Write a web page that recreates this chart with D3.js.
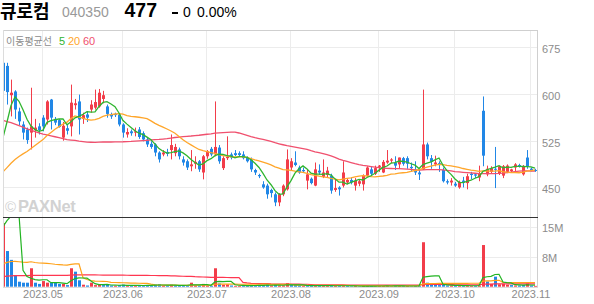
<!DOCTYPE html>
<html>
<head>
<meta charset="utf-8">
<script src="https://cdn.jsdelivr.net/npm/d3@7"></script>
<style>
  body { margin: 0; background: #fff; }
  svg { display: block; font-family: "Liberation Sans", Arial, sans-serif; }
</style>
</head>
<body>
<svg id="chart" width="594" height="304"></svg>
<script>
// trading days shown, by month
var monthKeys = ["2023.04", "2023.05", "2023.06", "2023.07", "2023.08", "2023.09", "2023.10", "2023.11"];
var monthDays = [
  [17, 18, 19, 20, 21, 24, 25, 26, 27, 28],
  [2, 3, 4, 8, 9, 10, 11, 12, 15, 16, 17, 18, 19, 22, 23, 24, 25, 26, 30, 31],
  [1, 2, 5, 7, 8, 9, 12, 13, 14, 15, 16, 19, 20, 21, 22, 23, 26, 27, 28, 29, 30],
  [3, 4, 5, 6, 7, 10, 11, 12, 13, 14, 17, 18, 19, 20, 21, 24, 25, 26, 27, 28, 31],
  [1, 2, 3, 4, 7, 8, 9, 10, 11, 14, 16, 17, 18, 21, 22, 23, 24, 25, 28, 29, 30, 31],
  [1, 4, 5, 6, 7, 8, 11, 12, 13, 14, 15, 18, 19, 20, 21, 22, 25, 26, 27],
  [4, 5, 6, 10, 11, 12, 13, 16, 17, 18, 19, 20, 23, 24, 25, 26, 27, 30, 31],
  [1, 2]
];

var opens = [650,645,598,604,572,551,543,538,542,548, 562,559,591,560,558,530,545,548,582,588,
  560,567,575,578,580,592,580,567,568,567, 551,535,540,538,543,537,527,520,519,506,
  503,507,510,505,511,495,492,484,488,492, 474,500,512,503,514,481,497,503,505,505,
  503,498,495,478,470,455,453,446,439,426, 439,447,482,490,482,478,461,464,453,477,
  467,470,469,446,450,453,458,462,453,456, 455,469,479,472,483,474,490,493,490,487,
  497,497,483,479,474,479,519,497,487,489, 478,460,458,456,450,461,457,472,471,466,
  573,471,475,480,473,469,475,476,482,486, 471,498,480,478];
var highs = [690,650,623,606,578,556,546,610,560,553, 566,590,592,563,560,555,550,615,592,599,
  570,572,590,607,608,605,583,570,570,569, 553,545,543,546,547,540,530,524,521,508,
  510,512,535,520,514,500,495,510,500,494, 502,510,515,588,518,500,532,506,510,508,
  508,500,498,480,472,460,456,448,442,441, 455,511,497,508,485,482,479,466,490,487,
  495,483,472,462,452,492,465,466,465,462, 471,484,484,485,486,494,510,497,500,498,
  499,500,490,492,480,607,522,502,501,492, 482,463,465,459,461,467,472,475,473,485,
  596,485,484,515,485,486,487,480,489,488, 486,510,482,480];
var lows = [580,583,564,560,550,527,520,511,530,535, 540,551,543,550,546,525,535,532,575,535,
  552,555,570,575,578,585,562,560,563,548, 530,530,533,532,528,524,515,512,500,490,
  500,500,495,500,495,485,478,476,480,475, 463,496,500,500,488,478,494,495,500,500,
  495,490,475,470,465,448,432,434,420,420, 436,445,478,484,472,474,447,455,452,470,
  465,466,440,443,437,450,455,455,445,452, 445,467,468,470,475,473,488,489,478,480,
  485,480,475,470,462,478,495,480,484,475, 458,455,453,451,448,450,447,463,465,460,
  484,468,472,449,470,465,473,474,476,482, 469,480,476,475];
var closes = [605,603,602,575,556,538,526,548,546,542, 548,588,562,554,547,549,541,586,585,559,
  566,562,583,587,602,598,568,564,566,551, 538,539,537,540,531,527,519,515,506,495,
  506,504,518,515,500,490,482,487,491,479, 500,508,503,515,492,497,499,498,502,502,
  497,492,479,474,468,450,439,441,426,439, 453,495,492,486,474,476,471,457,479,474,
  474,477,445,449,447,474,462,458,461,460, 469,482,472,481,485,491,493,495,485,498,
  488,488,481,474,471,519,500,491,490,486, 460,458,461,453,459,458,468,470,469,472,
  501,480,481,479,484,484,485,479,487,484, 483,484,477,477];
// volume in millions of shares
var volumes = [70,8.9,6.7,2.7,1.25,1.0,1.0,4.6,1.0,0.7, 1.4,1.0,1.0,1.0,0.7,0.7,0.4,4.6,3.75,1.6,
  0.5,0.3,1.0,0.4,0.5,0.4,0.5,0.3,0.2,0.4, 0.5,0.3,0.2,0.3,0.4,0.3,0.4,0.3,0.5,0.6,
  0.3,0.2,0.5,0.3,0.3,0.3,0.4,1.0,0.3,0.3, 0.7,0.3,0.2,4.6,0.8,0.5,0.6,0.3,0.2,0.2,
  0.3,0.3,0.4,0.3,0.3,0.4,0.5,0.3,0.4,0.3, 0.3,0.9,0.4,0.4,0.3,0.2,0.3,0.2,0.4,0.2,
  0.3,0.2,0.3,0.2,0.2,0.3,0.2,0.1,0.2,0.1, 0.2,0.2,0.2,0.1,0.2,0.2,0.3,0.1,0.2,0.2,
  0.2,0.2,0.1,0.2,0.2,11.1,1.0,0.6,0.5,0.4, 0.5,0.3,0.3,0.2,0.3,0.2,0.3,0.2,0.2,0.3,
  10.4,1.3,0.7,2.5,0.6,0.7,0.5,0.4,0.3,0.3, 0.4,0.8,0.3,0.2];

// history before the window, estimated from where the averages start
var priorCloses = [718,707,712,696,690,692,679,675,666,670,657,652,648,637,641,634,628,
  626,620,615,609,600,596,588,577,570,562,555,541,536,528,520,512,505,497,490,484,478,474,470,
  468,462,455,460,452,448,455,450,446,452,458,462,455,460,467,
  478,470,505,592];
var priorVolumes = [1.2,0.9,0.8,1.0,0.7,0.9,1.1,0.8,0.6,0.9,1.0,0.8,0.7,0.9,1.3,0.8,0.7,0.9,1.0,0.8,
  0.9,0.7,0.8,1.1,0.9,0.8,1.0,0.7,0.9,0.8,1.2,0.9,0.8,1.0,0.7,0.9,1.1,0.8,0.9,1.0,
  1.5,2.2,1.8,3.5,2.9,2.1,1.6,4.8,3.2,2.4,1.9,2.7,3.6,2.3,2.5,
  1.4,1.1,1.2,1.3];

var maPeriods = [5, 20, 60];
var maColors = ["#2fb52f", "#ffa62b", "#f0506e"];
var volMaColors = ["#22b422", "#ffa21a", "#ff3650"];
var priceTicks = [450, 525, 600, 675];
var volTicks = [7.5, 15];

var stockName = "큐로컴", stockCode = "040350", lastPrice = "477", change = "0", changePct = "0.00%";

var upColor = "#f23d4a", downColor = "#2187e6";

var svg = d3.select("#chart");

var left = 3, right = 537, priceTop = 30, priceBottom = 217, volBottom = 287;

// build trading dates
var dates = [];
monthKeys.forEach(function(m, k) {
  monthDays[k].forEach(function(d) { dates.push({ month: m, day: d }); });
});
var n = dates.length;

var x = d3.scaleLinear().domain([0, n - 1]).range([left, 535]);
var y = d3.scaleLinear().domain([402.6, 702.6]).range([priceBottom, priceTop]);
var yVol = d3.scaleLinear().domain([0, 15.9]).range([286.7, 223]);

// first trading day of each month except the first
var monthTicks = [];
dates.forEach(function(d, i) {
  if (i > 0 && d.month != dates[i - 1].month) monthTicks.push(i);
});

function movingAvg(prior, values, p) {
  var all = prior.concat(values), out = [];
  for (var i = 0; i < values.length; i++) {
    var end = prior.length + i;
    out.push(d3.mean(all.slice(end - p + 1, end + 1)));
  }
  return out;
}

var defs = svg.append("defs");
defs.append("clipPath").attr("id", "clipPrice").append("rect")
    .attr("x", left).attr("y", priceTop).attr("width", right - left).attr("height", priceBottom - priceTop);
defs.append("clipPath").attr("id", "clipVol").append("rect")
    .attr("x", left).attr("y", priceBottom).attr("width", right - left).attr("height", volBottom - priceBottom);

// ****************** grid ***************************
var grid = svg.append("g");
grid.selectAll("line.h").data(priceTicks).enter().append("line")
    .attr("x1", left).attr("x2", right)
    .attr("y1", function(d) { return Math.round(y(d)) + 0.5; })
    .attr("y2", function(d) { return Math.round(y(d)) + 0.5; })
    .attr("stroke", "#ececec");
grid.selectAll("line.vh").data(volTicks).enter().append("line")
    .attr("x1", left).attr("x2", right)
    .attr("y1", function(d) { return Math.round(yVol(d)) + 0.5; })
    .attr("y2", function(d) { return Math.round(yVol(d)) + 0.5; })
    .attr("stroke", "#ececec");
grid.selectAll("line.v").data(monthTicks).enter().append("line")
    .attr("x1", function(i) { return Math.round(x(i)) - 0.5; })
    .attr("x2", function(i) { return Math.round(x(i)) - 0.5; })
    .attr("y1", priceTop).attr("y2", volBottom)
    .attr("stroke", "#ececec");

// watermark
var wm = svg.append("g").attr("fill", "#d2d2d2");
wm.append("text").attr("x", 5).attr("y", 211.5).style("font-size", "15px").text("©");
wm.append("text").attr("x", 18).attr("y", 211.5).style("font-size", "16.5px").style("font-weight", "bold")
    .style("letter-spacing", "-0.3px").text("PAXNet");

// ****************** candles ***************************
var candles = svg.append("g").attr("clip-path", "url(#clipPrice)");
var cg = candles.selectAll("g").data(d3.range(n)).enter().append("g")
    .attr("fill", function(i) { return closes[i] >= opens[i] ? upColor : downColor; });

cg.append("rect")
    .attr("x", function(i) { return Math.round(x(i)); })
    .attr("width", 1)
    .attr("y", function(i) { return y(highs[i]); })
    .attr("height", function(i) { return y(lows[i]) - y(highs[i]); });

cg.append("rect")
    .attr("x", function(i) { return Math.round(x(i)) - 1; })
    .attr("width", 3)
    .attr("y", function(i) { return y(Math.max(opens[i], closes[i])); })
    .attr("height", function(i) { return Math.max(1, Math.abs(y(opens[i]) - y(closes[i]))); });

// moving averages on price
var line = d3.line().x(function(d, i) { return x(i); }).y(function(d) { return y(d); });
var maG = svg.append("g").attr("clip-path", "url(#clipPrice)");
[2, 1, 0].forEach(function(k) {
  maG.append("path")
      .attr("d", line(movingAvg(priorCloses, closes, maPeriods[k])))
      .attr("fill", "none")
      .attr("stroke", maColors[k])
      .attr("stroke-width", 1.3);
});

// ****************** volume ***************************
var volG = svg.append("g").attr("clip-path", "url(#clipVol)");
volG.selectAll("rect").data(volumes).enter().append("rect")
    .attr("x", function(d, i) { return Math.round(x(i)) - 1; })
    .attr("width", 3)
    .attr("y", function(d) { return yVol(Math.min(d, yVol.domain()[1])); })
    .attr("height", function(d) { return yVol(0) - yVol(Math.min(d, yVol.domain()[1])); })
    .attr("fill", function(d, i) {
      var prev = i > 0 ? closes[i - 1] : priorCloses[priorCloses.length - 1];
      return closes[i] >= prev ? upColor : downColor;
    });

var volLine = d3.line().x(function(d, i) { return x(i); }).y(function(d) { return yVol(d); });
[2, 1, 0].forEach(function(k) {
  volG.append("path")
      .attr("d", volLine(movingAvg(priorVolumes, volumes, maPeriods[k])))
      .attr("fill", "none")
      .attr("stroke", volMaColors[k])
      .attr("stroke-width", 1.2);
});

// ****************** frame and axes ***************************
var frame = svg.append("g").attr("shape-rendering", "crispEdges");
frame.append("line").attr("x1", left).attr("x2", right).attr("y1", priceTop + 0.5).attr("y2", priceTop + 0.5).attr("stroke", "#cfcfcf");
frame.append("line").attr("x1", left + 0.5).attr("x2", left + 0.5).attr("y1", priceTop).attr("y2", volBottom).attr("stroke", "#dcdcdc");
frame.append("line").attr("x1", right + 0.5).attr("x2", right + 0.5).attr("y1", priceTop).attr("y2", volBottom).attr("stroke", "#cfcfcf");
frame.append("line").attr("x1", left).attr("x2", right + 1).attr("y1", priceBottom + 0.5).attr("y2", priceBottom + 0.5).attr("stroke", "#333");
frame.append("line").attr("x1", left).attr("x2", right + 1).attr("y1", volBottom + 0.5).attr("y2", volBottom + 0.5).attr("stroke", "#dcdcdc");

var axisText = svg.append("g").attr("fill", "#8c8c8c").style("font-size", "11px");
axisText.selectAll("text.p").data(priceTicks).enter().append("text")
    .attr("x", 542).attr("y", function(d) { return y(d) + 6; })
    .text(function(d) { return d; });
axisText.selectAll("text.v").data(volTicks).enter().append("text")
    .attr("x", 542).attr("y", function(d) { return yVol(d) + 5.5; })
    .text(function(d) { return Math.round(d) + "M"; });
axisText.selectAll("text.m").data(monthTicks).enter().append("text")
    .attr("x", function(i) { return x(i); }).attr("y", 297.5)
    .attr("text-anchor", "middle")
    .text(function(i) { return dates[i].month; });

// ****************** header ***************************
var head = svg.append("g");
head.append("text").attr("x", 0).attr("y", 17.5)
    .style("font-family", "'Noto Sans CJK KR', sans-serif").style("font-size", "18px").style("font-weight", "bold")
    .text(stockName);
head.append("text").attr("x", 62).attr("y", 16.7).attr("fill", "#999").style("font-size", "14px").text(stockCode);
head.append("text").attr("x", 124.5).attr("y", 17.3).style("font-size", "19.5px").style("font-weight", "bold").text(lastPrice);
head.append("rect").attr("x", 172).attr("y", 12).attr("width", 6).attr("height", 2).attr("fill", "#000");
head.append("text").attr("x", 183).attr("y", 16.7).style("font-size", "14px").text(change);
head.append("text").attr("x", 197).attr("y", 16.7).style("font-size", "14px").text(changePct);

// legend
var legend = svg.append("g").style("font-size", "10px");
legend.append("text").attr("x", 6).attr("y", 44.5).attr("fill", "#8c8c8c")
    .style("font-family", "'Noto Sans CJK KR', sans-serif").text("이동평균선");
var legendX = [59, 68, 83];
maPeriods.forEach(function(p, k) {
  legend.append("text").attr("x", legendX[k]).attr("y", 44.5).attr("fill", maColors[k])
      .style("font-size", "11px").text(p);
});
</script>
</body>
</html>
